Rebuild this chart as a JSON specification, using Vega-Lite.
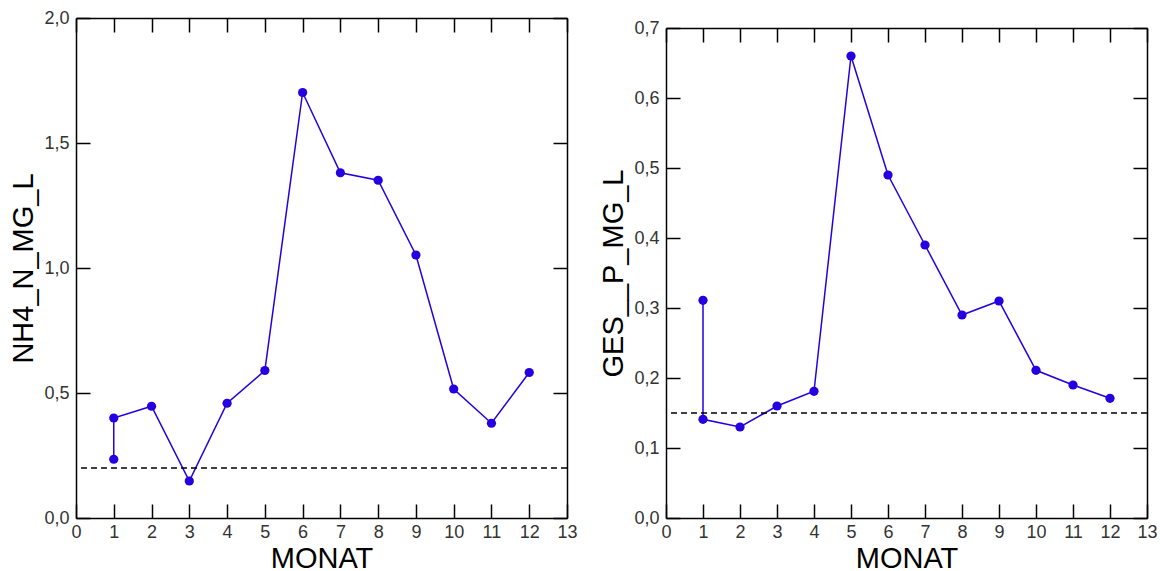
{
  "$schema": "https://vega.github.io/schema/vega-lite/v6.json",
  "background": "white",
  "padding": {"left": 9, "top": 9, "right": 5, "bottom": 0},
  "spacing": 21,
  "datasets": {
    "nh4": [
      {"MONAT": 1, "NH4_N_MG_L": 0.235, "ord": 1},
      {"MONAT": 1, "NH4_N_MG_L": 0.40, "ord": 2},
      {"MONAT": 2, "NH4_N_MG_L": 0.447, "ord": 3},
      {"MONAT": 3, "NH4_N_MG_L": 0.148, "ord": 4},
      {"MONAT": 4, "NH4_N_MG_L": 0.459, "ord": 5},
      {"MONAT": 5, "NH4_N_MG_L": 0.59, "ord": 6},
      {"MONAT": 6, "NH4_N_MG_L": 1.702, "ord": 7},
      {"MONAT": 7, "NH4_N_MG_L": 1.381, "ord": 8},
      {"MONAT": 8, "NH4_N_MG_L": 1.351, "ord": 9},
      {"MONAT": 9, "NH4_N_MG_L": 1.052, "ord": 10},
      {"MONAT": 10, "NH4_N_MG_L": 0.516, "ord": 11},
      {"MONAT": 11, "NH4_N_MG_L": 0.379, "ord": 12},
      {"MONAT": 12, "NH4_N_MG_L": 0.582, "ord": 13}
    ],
    "gesp": [
      {"MONAT": 1, "GES_P_MG_L": 0.311, "ord": 1},
      {"MONAT": 1, "GES_P_MG_L": 0.141, "ord": 2},
      {"MONAT": 2, "GES_P_MG_L": 0.130, "ord": 3},
      {"MONAT": 3, "GES_P_MG_L": 0.160, "ord": 4},
      {"MONAT": 4, "GES_P_MG_L": 0.181, "ord": 5},
      {"MONAT": 5, "GES_P_MG_L": 0.660, "ord": 6},
      {"MONAT": 6, "GES_P_MG_L": 0.490, "ord": 7},
      {"MONAT": 7, "GES_P_MG_L": 0.390, "ord": 8},
      {"MONAT": 8, "GES_P_MG_L": 0.290, "ord": 9},
      {"MONAT": 9, "GES_P_MG_L": 0.310, "ord": 10},
      {"MONAT": 10, "GES_P_MG_L": 0.211, "ord": 11},
      {"MONAT": 11, "GES_P_MG_L": 0.190, "ord": 12},
      {"MONAT": 12, "GES_P_MG_L": 0.171, "ord": 13}
    ],
    "grenze_nh4": [{"grenzwert": 0.2}],
    "grenze_gesp": [{"grenzwert": 0.15}]
  },
  "hconcat": [
    {
      "width": 491,
      "height": 500,
      "layer": [
        {
          "data": {"name": "nh4"},
          "mark": {"type": "line", "color": "#2400E0", "strokeWidth": 1.5},
          "encoding": {
            "x": {"field": "MONAT", "type": "quantitative", "scale": {"domain": [0, 13], "nice": false, "zero": false},
                  "axis": {"orient": "bottom", "title": "MONAT", "values": [0,1,2,3,4,5,6,7,8,9,10,11,12,13], "format": "d"}},
            "y": {"field": "NH4_N_MG_L", "type": "quantitative", "scale": {"domain": [0, 2], "nice": false},
                  "axis": {"orient": "left", "title": "NH4_N_MG_L", "values": [0, 0.5, 1, 1.5, 2], "format": ".1f"}},
            "order": {"field": "ord"}
          }
        },
        {
          "data": {"name": "nh4"},
          "mark": {"type": "circle", "color": "#2400E0", "size": 85, "opacity": 1},
          "encoding": {
            "x": {"field": "MONAT", "type": "quantitative",
                  "axis": {"orient": "top", "title": null, "labels": false, "values": [0,1,2,3,4,5,6,7,8,9,10,11,12,13]}},
            "y": {"field": "NH4_N_MG_L", "type": "quantitative",
                  "axis": {"orient": "right", "title": null, "labels": false, "values": [0, 0.5, 1, 1.5, 2]}}
          }
        },
        {
          "data": {"name": "grenze_nh4"},
          "mark": {"type": "rule", "color": "black", "strokeWidth": 1.5, "strokeDash": [6, 4]},
          "encoding": {"y": {"field": "grenzwert", "type": "quantitative", "axis": null}}
        }
      ],
      "resolve": {"axis": {"x": "independent", "y": "independent"}}
    },
    {
      "width": 481,
      "height": 500,
      "layer": [
        {
          "data": {"name": "gesp"},
          "mark": {"type": "line", "color": "#2400E0", "strokeWidth": 1.5},
          "encoding": {
            "x": {"field": "MONAT", "type": "quantitative", "scale": {"domain": [0, 13], "nice": false, "zero": false},
                  "axis": {"orient": "bottom", "title": "MONAT", "values": [0,1,2,3,4,5,6,7,8,9,10,11,12,13], "format": "d"}},
            "y": {"field": "GES_P_MG_L", "type": "quantitative", "scale": {"domain": [0, 0.7], "nice": false, "range": [500, 10]},
                  "axis": {"orient": "left", "title": "GES__P_MG_L", "values": [0, 0.1, 0.2, 0.3, 0.4, 0.5, 0.6, 0.7], "format": ".1f"}},
            "order": {"field": "ord"}
          }
        },
        {
          "data": {"name": "gesp"},
          "mark": {"type": "circle", "color": "#2400E0", "size": 85, "opacity": 1},
          "encoding": {
            "x": {"field": "MONAT", "type": "quantitative",
                  "axis": {"orient": "top", "title": null, "labels": false, "offset": -10, "values": [0,1,2,3,4,5,6,7,8,9,10,11,12,13]}},
            "y": {"field": "GES_P_MG_L", "type": "quantitative",
                  "axis": {"orient": "right", "title": null, "labels": false, "values": [0, 0.1, 0.2, 0.3, 0.4, 0.5, 0.6, 0.7]}}
          }
        },
        {
          "data": {"name": "grenze_gesp"},
          "mark": {"type": "rule", "color": "black", "strokeWidth": 1.5, "strokeDash": [6, 4]},
          "encoding": {"y": {"field": "grenzwert", "type": "quantitative", "axis": null}}
        }
      ],
      "resolve": {"axis": {"x": "independent", "y": "independent"}}
    }
  ],
  "config": {
    "locale": {"number": {"decimal": ",", "thousands": ".", "grouping": [3], "currency": ["", " €"]}},
    "view": {"stroke": null},
    "axis": {
      "domainColor": "black",
      "domainWidth": 1.5,
      "tickColor": "black",
      "tickWidth": 1.5,
      "tickSize": -14,
      "grid": false,
      "labelFont": "Liberation Sans",
      "labelFontSize": 18,
      "labelColor": "#333333",
      "labelFlush": false,
      "labelOverlap": false,
      "labelBound": false,
      "titleFont": "Liberation Sans",
      "titleFontSize": 29,
      "titleFontWeight": "normal",
      "titleColor": "black"
    },
    "axisBottom": {"labelPadding": 19, "titlePadding": 3},
    "axisLeft": {"labelPadding": 21, "titlePadding": 5}
  }
}
